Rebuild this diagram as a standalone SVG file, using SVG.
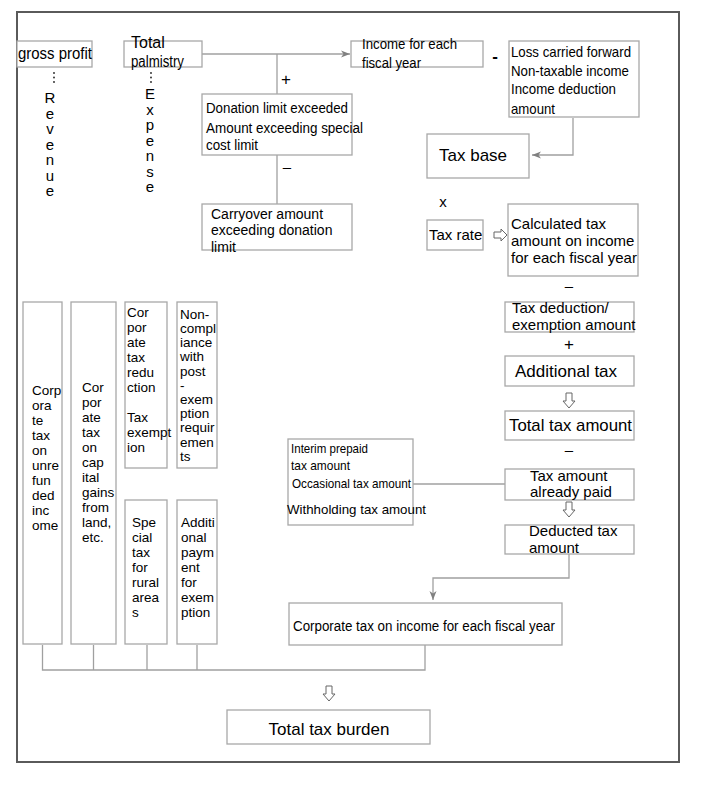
<svg xmlns="http://www.w3.org/2000/svg" width="701" height="785" viewBox="0 0 701 785">
<style>
text{font-family:"Liberation Sans",Arial,sans-serif;fill:#000}
.b{fill:#fff;stroke:#a8a8a8;stroke-width:1.3}
.l{fill:none;stroke:#a0a0a0;stroke-width:1.3}
.h{fill:#fff;stroke:#666;stroke-width:1}
.f17{font-size:17px}.f15{font-size:15px}.f14{font-size:14px}.f13{font-size:13.5px}.f12{font-size:13px}
.v{font-size:15px;writing-mode:vertical-rl;text-orientation:upright;letter-spacing:-1.5px}
.dot{fill:#222}
</style>
<defs>
<marker id="ar" markerWidth="10" markerHeight="8" refX="9" refY="4" orient="auto" markerUnits="userSpaceOnUse">
<path d="M0,0.5 L9,4 L0,7.5 L2.5,4 z" fill="#808080"/>
</marker>
</defs>
<rect x="0" y="0" width="701" height="785" fill="#fff"/>
<rect x="17" y="12" width="662" height="750" fill="none" stroke="#5a5a5a" stroke-width="2"/>

<g id="connectors">
<path class="l" d="M202,54 H350" marker-end="url(#ar)"/>
<path class="l" d="M277,54 V94"/>
<path class="l" d="M277,155 V204"/>
<path class="l" d="M573,118 V155 H532" marker-end="url(#ar)"/>
<path class="l" d="M413,484 H505"/>
<path class="l" d="M569,554 V578 H433 V600" marker-end="url(#ar)"/>
<path class="l" d="M42.5,645 V670 H425 V645 M93.5,645 V670 M147,645 V670 M197,645 V670"/>
<polygon class="h" points="494,232 501,232 501,229 507,235 501,241 501,238 494,238"/>
<polygon class="h" points="566,393 572,393 572,401 575,401 569,408 563,401 566,401"/>
<polygon class="h" points="566,502 572,502 572,510 575,510 569,517 563,510 566,510"/>
<polygon class="h" points="326,686 332,686 332,694 335,694 329,701 323,694 326,694"/>
<text class="f17" x="286" y="85" text-anchor="middle">+</text>
<text class="f15" x="287" y="172" text-anchor="middle">–</text>
<text class="f17" x="495" y="62" text-anchor="middle" font-weight="bold">-</text>
<text class="f15" x="443" y="207" text-anchor="middle">x</text>
<text class="f15" x="569" y="291" text-anchor="middle">–</text>
<text class="f17" x="569" y="350" text-anchor="middle">+</text>
<text class="f15" x="569" y="455" text-anchor="middle">–</text>
</g>

<g id="gross-profit">
<rect class="b" x="17" y="41" width="75" height="26"/>
<text class="f17" x="18" y="59" textLength="74" lengthAdjust="spacingAndGlyphs">gross profit</text>
</g>
<g id="revenue">
<circle class="dot" cx="54" cy="73" r="0.9"/><circle class="dot" cx="54" cy="77.5" r="0.9"/><circle class="dot" cx="54" cy="82" r="0.9"/>
<text class="v" x="50" y="89">Revenue</text>
</g>
<g id="total-palmistry">
<rect class="b" x="124" y="41" width="78" height="26"/>
<text x="131" y="48" style="font-size:16px">Total</text>
<text x="131" y="67" textLength="53" lengthAdjust="spacingAndGlyphs" style="font-size:16px">palmistry</text>
</g>
<g id="expense">
<circle class="dot" cx="151" cy="73" r="0.9"/><circle class="dot" cx="151" cy="77.5" r="0.9"/><circle class="dot" cx="151" cy="82" r="0.9"/>
<text class="v" x="150" y="85">Expense</text>
</g>
<g id="donation">
<rect class="b" x="202" y="94" width="150" height="61"/>
<text class="f14" x="206" y="113" textLength="142" lengthAdjust="spacingAndGlyphs">Donation limit exceeded</text>
<text class="f14" x="206" y="133" textLength="157" lengthAdjust="spacingAndGlyphs">Amount exceeding special</text>
<text class="f14" x="206" y="150" textLength="52" lengthAdjust="spacingAndGlyphs">cost limit</text>
</g>
<g id="carryover">
<rect class="b" x="202" y="204" width="150" height="46"/>
<text class="f14" x="211" y="219">Carryover amount</text>
<text class="f14" x="211" y="235">exceeding donation</text>
<text class="f14" x="211" y="252">limit</text>
</g>
<g id="income">
<rect class="b" x="351" y="41" width="132" height="26"/>
<text class="f15" x="362" y="49" textLength="95" lengthAdjust="spacingAndGlyphs">Income for each</text>
<text class="f15" x="362" y="68" textLength="59" lengthAdjust="spacingAndGlyphs">fiscal year</text>
</g>
<g id="loss">
<rect class="b" x="509" y="41" width="130" height="76"/>
<text class="f15" x="511" y="57" textLength="120" lengthAdjust="spacingAndGlyphs">Loss carried forward</text>
<text class="f15" x="511" y="76" textLength="118" lengthAdjust="spacingAndGlyphs">Non-taxable income</text>
<text class="f15" x="511" y="94" textLength="105" lengthAdjust="spacingAndGlyphs">Income deduction</text>
<text class="f15" x="511" y="114" textLength="44" lengthAdjust="spacingAndGlyphs">amount</text>
</g>
<g id="tax-base">
<rect class="b" x="427" y="134" width="102" height="44"/>
<text class="f17" x="439" y="161">Tax base</text>
</g>
<g id="tax-rate">
<rect class="b" x="427" y="220" width="56" height="30"/>
<text class="f15" x="429" y="240">Tax rate</text>
</g>
<g id="calculated">
<rect class="b" x="508" y="204" width="130" height="72"/>
<text class="f15" x="511" y="229">Calculated tax</text>
<text class="f15" x="511" y="246">amount on income</text>
<text class="f15" x="511" y="263">for each fiscal year</text>
</g>
<g id="deduction">
<rect class="b" x="505" y="302" width="129" height="30"/>
<text class="f15" x="512" y="313">Tax deduction/</text>
<text class="f15" x="512" y="330">exemption amount</text>
</g>
<g id="additional">
<rect class="b" x="505" y="356" width="129" height="30"/>
<text class="f17" x="515" y="377">Additional tax</text>
</g>
<g id="total-tax">
<rect class="b" x="505" y="411" width="129" height="29"/>
<text class="f17" x="509" y="431" textLength="123" lengthAdjust="spacingAndGlyphs">Total tax amount</text>
</g>
<g id="already-paid">
<rect class="b" x="505" y="469" width="129" height="31"/>
<text class="f15" x="530" y="481">Tax amount</text>
<text class="f15" x="530" y="497">already paid</text>
</g>
<g id="deducted">
<rect class="b" x="505" y="525" width="129" height="29"/>
<text class="f15" x="529" y="536">Deducted tax</text>
<text class="f15" x="529" y="553">amount</text>
</g>
<g id="interim">
<rect class="b" x="288" y="439" width="125" height="86"/>
<text class="f12" x="291" y="453" textLength="77" lengthAdjust="spacingAndGlyphs">Interim prepaid</text>
<text class="f12" x="291" y="470" textLength="59" lengthAdjust="spacingAndGlyphs">tax amount</text>
<text class="f12" x="292" y="488" textLength="119" lengthAdjust="spacingAndGlyphs">Occasional tax amount</text>
<text class="f13" x="287" y="514" textLength="139" lengthAdjust="spacingAndGlyphs">Withholding tax amount</text>
</g>
<g id="corp-income">
<rect class="b" x="289" y="603" width="273" height="42"/>
<text class="f14" x="424" y="631" text-anchor="middle" textLength="262" lengthAdjust="spacingAndGlyphs">Corporate tax on income for each fiscal year</text>
</g>
<g id="total-burden">
<rect class="b" x="227" y="710" width="203" height="34"/>
<text class="f17" x="329" y="735" text-anchor="middle">Total tax burden</text>
</g>
<g id="col-unrefunded">
<rect class="b" x="23" y="302" width="39" height="342"/>
<text class="f13"><tspan x="32" y="395">Corp</tspan><tspan x="32" y="410">ora</tspan><tspan x="32" y="425">te</tspan><tspan x="32" y="440">tax</tspan><tspan x="32" y="455">on</tspan><tspan x="32" y="470">unre</tspan><tspan x="32" y="485">fun</tspan><tspan x="32" y="500">ded</tspan><tspan x="32" y="515">inc</tspan><tspan x="32" y="530">ome</tspan></text>
</g>
<g id="col-capital-gains">
<rect class="b" x="71" y="302" width="45" height="342"/>
<text class="f13"><tspan x="82" y="392">Cor</tspan><tspan x="82" y="407">por</tspan><tspan x="82" y="422">ate</tspan><tspan x="82" y="437">tax</tspan><tspan x="82" y="452">on</tspan><tspan x="82" y="467">cap</tspan><tspan x="82" y="482">ital</tspan><tspan x="82" y="497">gains</tspan><tspan x="82" y="512">from</tspan><tspan x="82" y="527">land,</tspan><tspan x="82" y="542">etc.</tspan></text>
</g>
<g id="col-reduction">
<rect class="b" x="125" y="302" width="42" height="166"/>
<text class="f13"><tspan x="127" y="317">Cor</tspan><tspan x="127" y="332">por</tspan><tspan x="127" y="347">ate</tspan><tspan x="127" y="362">tax</tspan><tspan x="127" y="377">redu</tspan><tspan x="127" y="392">ction</tspan><tspan x="127" y="422">Tax</tspan><tspan x="127" y="437">exempt</tspan><tspan x="127" y="452">ion</tspan></text>
</g>
<g id="col-noncompliance">
<rect class="b" x="177" y="302" width="40" height="166"/>
<text class="f13"><tspan x="180" y="319">Non-</tspan><tspan x="180" y="333">compl</tspan><tspan x="180" y="347">iance</tspan><tspan x="180" y="361">with</tspan><tspan x="180" y="376">post</tspan><tspan x="180" y="390">-</tspan><tspan x="180" y="404">exem</tspan><tspan x="180" y="418">ption</tspan><tspan x="180" y="432">requir</tspan><tspan x="180" y="447">emen</tspan><tspan x="180" y="461">ts</tspan></text>
</g>
<g id="col-rural">
<rect class="b" x="125" y="500" width="42" height="144"/>
<text class="f13"><tspan x="132" y="527">Spe</tspan><tspan x="132" y="542">cial</tspan><tspan x="132" y="557">tax</tspan><tspan x="132" y="572">for</tspan><tspan x="132" y="587">rural</tspan><tspan x="132" y="602">area</tspan><tspan x="132" y="617">s</tspan></text>
</g>
<g id="col-additional-payment">
<rect class="b" x="177" y="500" width="40" height="144"/>
<text class="f13"><tspan x="181" y="527">Additi</tspan><tspan x="181" y="542">onal</tspan><tspan x="181" y="557">paym</tspan><tspan x="181" y="572">ent</tspan><tspan x="181" y="587">for</tspan><tspan x="181" y="602">exem</tspan><tspan x="181" y="617">ption</tspan></text>
</g>
</svg>
